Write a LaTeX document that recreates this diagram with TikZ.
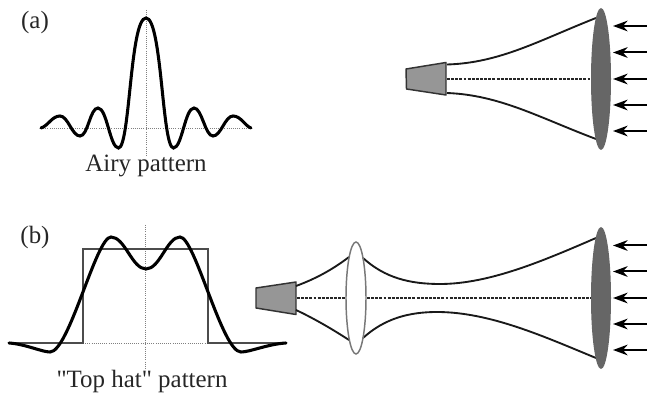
\documentclass[tikz,border=0pt]{standalone}
\usepackage{fontspec}
\setmainfont[Ligatures=TeXOff]{Liberation Serif}
\usetikzlibrary{arrows.meta}
\definecolor{mirrorcol}{RGB}{102,102,102}
\definecolor{horncol}{RGB}{150,150,150}
\definecolor{lenscol}{RGB}{120,120,120}
\tikzset{
  beam/.style={line width=1.4pt,black!90},
  axisline/.style={densely dotted,line width=0.6pt,gray},
  chief/.style={dash pattern=on 2.2pt off 0.9pt,line width=1pt,black!85},
  horn/.style={draw=black!80,fill=horncol,line width=1.1pt,line join=round},
  mirror/.style={fill=mirrorcol},
  profile/.style={line width=2.3pt,black,line cap=round},
  hat/.style={line width=1.1pt,black!70},
  incoming/.style={-{Stealth[length=11pt,width=8pt]},line width=1.5pt},
  caption/.style={font=\fontsize{18.7}{20}\selectfont,text=black!85,inner sep=0pt}
}
\begin{document}
\begin{tikzpicture}[x=0.75pt,y=-0.75pt]
  \useasboundingbox (0,0) rectangle (647,399);

  % panel (a): Airy profile
  \node[caption] (labela) at (35,23) {(a)};
  \draw[axisline] (146,10) -- (146,156);
  \draw[axisline] (41,128) -- (251,128);
  \draw[profile] (41,128) .. controls (48,126) and (52,116) .. (60,116)
    .. controls (68,116) and (72,136) .. (80,136)
    .. controls (88,136) and (90,108) .. (98,108)
    .. controls (107,108) and (110,148) .. (118.5,148)
    .. controls (130,148) and (130,18) .. (146,18)
    .. controls (162,18) and (162,148) .. (173.5,148)
    .. controls (182,148) and (185,108) .. (194,108)
    .. controls (202,108) and (205,136) .. (213,136)
    .. controls (221,136) and (225,116) .. (233,116)
    .. controls (241,116) and (245,126) .. (251,128);
  \node[caption] (airy) at (146,166) {Airy pattern};

  % panel (a): receiver
  \draw[horn] (406,69) -- (446,62.5) -- (446,95) -- (406.5,89) -- cycle;
  \draw[chief] (447,79) -- (592,79);
  \draw[beam] (447,64.5) .. controls (500,63) and (540,40) .. (596,18);
  \draw[beam] (447,93) .. controls (500,95) and (540,118) .. (596,139);
  \fill[mirror] (601,79) ellipse (10 and 71);
  \foreach \y in {26,52.5,79,105,131}
    \draw[incoming] (647,\y) -- (613,\y);

  % panel (b): top hat profile
  \node[caption] (labelb) at (35,238) {(b)};
  \draw[axisline] (145.5,225) -- (145.5,370);
  \draw[axisline] (83,343) -- (208,343);
  \draw[hat] (9,343) -- (83,343) -- (83,249) -- (208,249) -- (208,343) -- (286,343);
  \draw[profile] (9,343) .. controls (25,344) and (42,352) .. (50,352)
    .. controls (69,352) and (96,237) .. (111,237)
    .. controls (125,237) and (132,269) .. (146,269)
    .. controls (160,269) and (167,237) .. (180,237)
    .. controls (195,237) and (222,352) .. (241,352)
    .. controls (250,352) and (268,344) .. (286,343);
  \node[caption] (tophat) at (142,382) {"Top hat" pattern};

  % panel (b): receiver with relay lens
  \draw[horn] (256,288) -- (296,282) -- (296,314.5) -- (256,308) -- cycle;
  \draw[chief] (297,298) -- (346,298);
  \draw[chief] (367,298) -- (592,298);
  \draw[beam] (296,286) .. controls (315,279) and (332,270) .. (349,257);
  \draw[beam] (296,310) .. controls (315,319) and (332,329) .. (349,340);
  \draw[beam] (363,258) .. controls (385,278) and (410,284) .. (440,284)
    .. controls (490,284) and (545,260) .. (596,238);
  \draw[beam] (363,338) .. controls (385,318) and (410,312) .. (437,312)
    .. controls (490,312) and (545,337) .. (596,358);
  \draw[lenscol,line width=1.1pt] (356,298) ellipse (10 and 56);
  \fill[mirror] (601,298) ellipse (10 and 71);
  \foreach \y in {245.5,271.5,298,324,350}
    \draw[incoming] (647,\y) -- (613,\y);
\end{tikzpicture}
\end{document}
